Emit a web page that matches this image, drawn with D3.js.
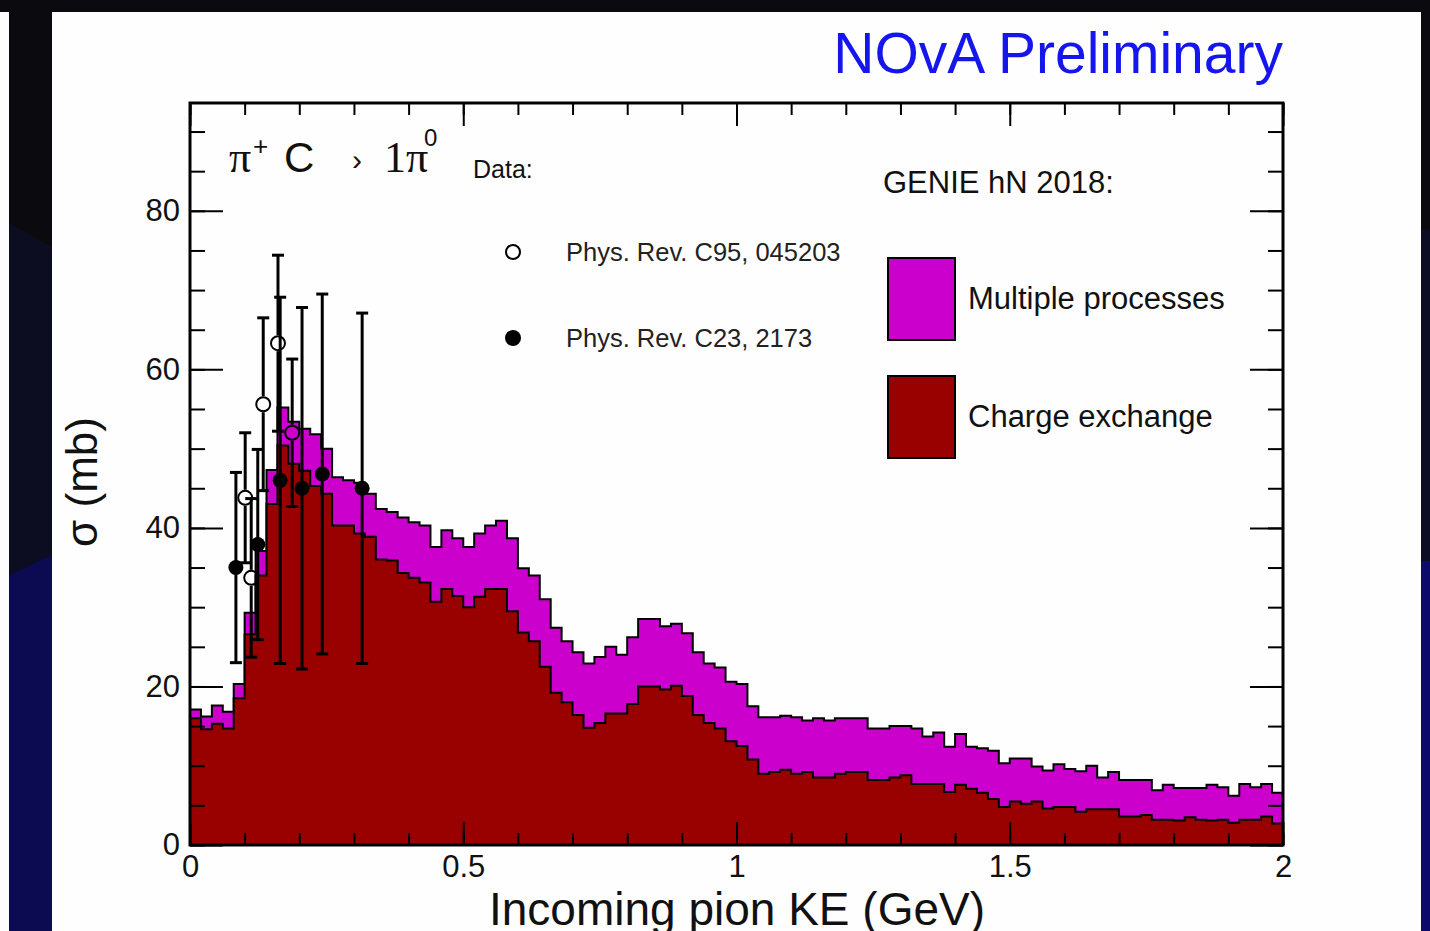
<!DOCTYPE html>
<html>
<head>
<meta charset="utf-8">
<script src="https://cdn.jsdelivr.net/npm/d3@7"></script>
<style>
  body { margin: 0; background: #0b0b0f; }
  svg { display: block; }
  text { font-family: "Liberation Sans", Arial, sans-serif; }
</style>
</head>
<body>
<div id="chart"></div>
<script>
// histogram bins: 0 -> 2 GeV, 0.02 GeV wide
const binWidth = 0.02;
// GENIE hN 2018, stacked total (charge exchange + multiple processes), mb
const totalXsec = [
  17.1, 16.2, 17.6, 16.8, 20.3, 29.3, 37.1, 47.3, 55.2, 53.4,
  52.5, 51.8, 50.0, 46.4, 46.0, 45.7, 44.3, 42.4, 42.0, 41.3,
  40.7, 40.3, 37.6, 39.7, 38.7, 37.6, 39.3, 40.3, 40.9, 38.7,
  34.9, 34.0, 31.0, 27.4, 25.7, 24.3, 22.9, 23.7, 25.0, 24.0,
  26.2, 28.5, 28.5, 27.6, 27.9, 26.7, 24.3, 22.9, 22.4, 20.6,
  20.3, 17.5, 16.1, 16.1, 16.3, 16.1, 15.7, 16.0, 15.7, 16.0,
  16.0, 16.0, 14.7, 14.7, 15.0, 15.0, 14.7, 13.7, 14.2, 12.4,
  14.0, 12.4, 12.2, 11.9, 10.3, 10.9, 10.9, 9.9, 9.4, 10.2,
  9.6, 9.3, 10.0, 8.5, 9.2, 8.2, 8.2, 8.2, 6.9, 7.6,
  7.2, 7.2, 7.2, 7.6, 7.3, 6.2, 7.7, 7.3, 7.7, 6.6
];
// charge exchange only
const cexXsec = [
  16.0, 14.6, 15.3, 14.7, 18.5, 26.6, 34.0, 43.0, 50.4, 48.1,
  47.2, 45.3, 44.3, 40.3, 40.3, 39.3, 38.9, 36.0, 35.9, 34.3,
  33.7, 33.1, 30.7, 32.3, 31.4, 30.0, 31.3, 32.3, 32.3, 29.5,
  26.8, 25.7, 22.5, 19.2, 18.0, 16.4, 14.8, 15.4, 16.6, 16.6,
  17.8, 20.0, 20.0, 19.6, 20.1, 18.8, 16.4, 15.4, 14.7, 13.1,
  12.5, 10.8, 9.0, 9.2, 9.5, 9.0, 9.2, 8.5, 8.5, 9.0,
  9.2, 9.2, 8.2, 8.2, 8.5, 8.8, 7.7, 7.7, 7.7, 6.7,
  7.6, 7.1, 6.6, 5.8, 4.8, 5.5, 5.2, 5.5, 4.6, 4.8,
  4.8, 4.2, 4.5, 4.5, 4.5, 3.6, 3.6, 3.8, 3.2, 3.2,
  3.1, 3.5, 3.2, 3.1, 3.2, 2.8, 3.2, 3.2, 3.6, 2.7
];

// data: Phys. Rev. C95, 045203 (open circles)
const c95KE = [0.101, 0.112, 0.134, 0.161, 0.187];
const c95Xsec = [43.8, 33.7, 55.6, 63.3, 52.0];
const c95Err = [8.2, 10.0, 10.9, 11.1, 9.3];
// data: Phys. Rev. C23, 2173 (filled circles)
const c23KE = [0.084, 0.124, 0.165, 0.205, 0.242, 0.315];
const c23Xsec = [35.0, 37.9, 46.0, 45.0, 46.8, 45.0];
const c23Err = [12.0, 12.0, 23.1, 22.8, 22.7, 22.1];

const xMajor = [0, 0.5, 1, 1.5, 2];
const yMajor = [0, 20, 40, 60, 80];

var W = 1430, H = 931;
var svg = d3.select("#chart").append("svg").attr("width", W).attr("height", H);

// slide background around the white panel
svg.append("rect").attr("x", 0).attr("y", 0).attr("width", W).attr("height", H).attr("fill", "#0b0b0f");
svg.append("rect").attr("x", 0).attr("y", 12).attr("width", 9).attr("height", H - 12).attr("fill", "#fdfdfd");
svg.append("path").attr("d", "M9,223 L52,247 L52,555 L9,575 Z").attr("fill", "#0d0d22");
svg.append("path").attr("d", "M9,575 L52,555 L52,931 L9,931 Z").attr("fill", "#0c0b52");
svg.append("rect").attr("x", 1421).attr("y", 230).attr("width", 9).attr("height", 331).attr("fill", "#0d0d26");
svg.append("rect").attr("x", 1421).attr("y", 561).attr("width", 9).attr("height", 370).attr("fill", "#0c0b6c");
svg.append("rect").attr("x", 52).attr("y", 12).attr("width", 1369).attr("height", H - 12).attr("fill", "#fefefe");

var x = d3.scaleLinear().domain([0, 2]).range([190, 1283]);
var y = d3.scaleLinear().domain([0, 93.6]).range([845, 103]);

// histogram as step curves
function stepPoints(vals) {
  var pts = vals.map(function(v, i) { return [i * binWidth, v]; });
  pts.push([vals.length * binWidth, vals[vals.length - 1]]);
  return pts;
}
var area = d3.area().curve(d3.curveStepAfter)
  .x(function(d) { return x(d[0]); })
  .y0(y(0))
  .y1(function(d) { return y(d[1]); });
var line = d3.line().curve(d3.curveStepAfter)
  .x(function(d) { return x(d[0]); })
  .y(function(d) { return y(d[1]); });

function drawHist(vals, color) {
  var pts = stepPoints(vals);
  svg.append("path").attr("d", area(pts)).attr("fill", color);
  svg.append("path").attr("d", line(pts)).attr("fill", "none")
    .attr("stroke", "#000").attr("stroke-width", 2);
  svg.append("line").attr("x1", x(2)).attr("x2", x(2))
    .attr("y1", y(vals[vals.length - 1])).attr("y2", y(0))
    .attr("stroke", "#000").attr("stroke-width", 2);
}
drawHist(totalXsec, "#cc00cc");
drawHist(cexXsec, "#990000");

// data points with error bars
function drawData(ke, xs, err, filled) {
  var g = svg.append("g");
  var r = 8;
  ke.forEach(function(k, i) {
    var cx = x(k), cy = y(xs[i]);
    var top = y(xs[i] + err[i]), bot = y(xs[i] - err[i]);
    var gap = filled ? 0 : r;
    g.append("line").attr("x1", cx).attr("x2", cx).attr("y1", top).attr("y2", cy - gap)
      .attr("stroke", "#000").attr("stroke-width", 3);
    g.append("line").attr("x1", cx).attr("x2", cx).attr("y1", cy + gap).attr("y2", bot)
      .attr("stroke", "#000").attr("stroke-width", 3);
    [top, bot].forEach(function(yy) {
      g.append("line").attr("x1", cx - 6).attr("x2", cx + 6).attr("y1", yy).attr("y2", yy)
        .attr("stroke", "#000").attr("stroke-width", 3);
    });
    g.append("circle").attr("cx", cx).attr("cy", cy).attr("r", filled ? r - 0.5 : r - 1)
      .attr("fill", filled ? "#000" : "none")
      .attr("stroke", "#000").attr("stroke-width", filled ? 0 : 2);
  });
}
drawData(c95KE, c95Xsec, c95Err, false);
drawData(c23KE, c23Xsec, c23Err, true);

// axes (ROOT style: ticks inside on all four sides)
function styleAxis(g) {
  g.select(".domain").remove();
  g.selectAll(".tick line").attr("stroke", "#000").attr("stroke-width", 2);
  g.selectAll(".tick text").attr("fill", "#111").style("font-size", "31px")
    .style("font-family", "'Liberation Sans', Arial, sans-serif");
}
var fmt = d3.format("~g");
svg.append("g").attr("transform", "translate(0,845)")
  .call(d3.axisBottom(x).tickValues(xMajor).tickFormat(fmt).tickSize(-23).tickPadding(10))
  .call(styleAxis);
svg.append("g").attr("transform", "translate(0,845)")
  .call(d3.axisBottom(x).tickValues(d3.range(0, 2.001, 0.1)).tickFormat("").tickSize(-12))
  .call(styleAxis);
svg.append("g").attr("transform", "translate(0,103)")
  .call(d3.axisTop(x).tickValues(xMajor).tickFormat("").tickSize(-23))
  .call(styleAxis);
svg.append("g").attr("transform", "translate(0,103)")
  .call(d3.axisTop(x).tickValues(d3.range(0, 2.001, 0.1)).tickFormat("").tickSize(-12))
  .call(styleAxis);
svg.append("g").attr("transform", "translate(190,0)")
  .call(d3.axisLeft(y).tickValues(yMajor).tickFormat(fmt).tickSize(-33).tickPadding(10))
  .call(styleAxis);
svg.append("g").attr("transform", "translate(190,0)")
  .call(d3.axisLeft(y).tickValues(d3.range(0, 93, 5)).tickFormat("").tickSize(-15))
  .call(styleAxis);
svg.append("g").attr("transform", "translate(1283,0)")
  .call(d3.axisRight(y).tickValues(yMajor).tickFormat("").tickSize(-33))
  .call(styleAxis);
svg.append("g").attr("transform", "translate(1283,0)")
  .call(d3.axisRight(y).tickValues(d3.range(0, 93, 5)).tickFormat("").tickSize(-15))
  .call(styleAxis);

// frame
svg.append("rect").attr("x", 190).attr("y", 103).attr("width", 1093).attr("height", 742)
  .attr("fill", "none").attr("stroke", "#000").attr("stroke-width", 3);

// axis titles (bottom one runs off the slide, as in the original)
svg.append("text").attr("x", 737).attr("y", 925).attr("text-anchor", "middle")
  .style("font-size", "46px").attr("fill", "#111").text("Incoming pion KE (GeV)");
svg.append("text").attr("transform", "translate(97,482) rotate(-90)").attr("text-anchor", "middle")
  .style("font-size", "44px").attr("fill", "#111").text("σ (mb)");

// header
svg.append("text").attr("x", 1283).attr("y", 73).attr("text-anchor", "end")
  .style("font-size", "57px").attr("fill", "#1515ee").text("NOvA Preliminary");

// process label
var serif = "'Liberation Serif', 'DejaVu Serif', serif";
svg.append("text").attr("x", 229).attr("y", 172).style("font-family", serif).style("font-size", "44px").attr("fill", "#111").text("π");
svg.append("text").attr("x", 253).attr("y", 155).style("font-size", "26px").attr("fill", "#111").text("+");
svg.append("text").attr("x", 284).attr("y", 172).style("font-size", "42px").attr("fill", "#111").text("C");
svg.append("text").attr("x", 352).attr("y", 170).style("font-size", "30px").attr("fill", "#111").text("›");
svg.append("text").attr("x", 384).attr("y", 172).style("font-family", serif).style("font-size", "44px").attr("fill", "#111").text("1π");
svg.append("text").attr("x", 424).attr("y", 146).style("font-size", "24px").attr("fill", "#111").text("0");

// data legend
svg.append("text").attr("x", 473).attr("y", 178).style("font-size", "25px").attr("fill", "#111").text("Data:");
svg.append("circle").attr("cx", 513).attr("cy", 252).attr("r", 7).attr("fill", "none").attr("stroke", "#000").attr("stroke-width", 2);
svg.append("text").attr("x", 566).attr("y", 261).style("font-size", "25.5px").attr("fill", "#222").text("Phys. Rev. C95, 045203");
svg.append("circle").attr("cx", 513).attr("cy", 338).attr("r", 8).attr("fill", "#000");
svg.append("text").attr("x", 566).attr("y", 347).style("font-size", "25.5px").attr("fill", "#222").text("Phys. Rev. C23, 2173");

// GENIE legend
svg.append("text").attr("x", 883).attr("y", 193).style("font-size", "31px").attr("fill", "#111").text("GENIE hN 2018:");
svg.append("rect").attr("x", 888).attr("y", 258).attr("width", 67).attr("height", 82)
  .attr("fill", "#cc00cc").attr("stroke", "#000").attr("stroke-width", 2);
svg.append("text").attr("x", 968).attr("y", 309).style("font-size", "31px").attr("fill", "#111").text("Multiple processes");
svg.append("rect").attr("x", 888).attr("y", 376).attr("width", 67).attr("height", 82)
  .attr("fill", "#990000").attr("stroke", "#000").attr("stroke-width", 2);
svg.append("text").attr("x", 968).attr("y", 427).style("font-size", "31px").attr("fill", "#111").text("Charge exchange");
</script>
</body>
</html>
